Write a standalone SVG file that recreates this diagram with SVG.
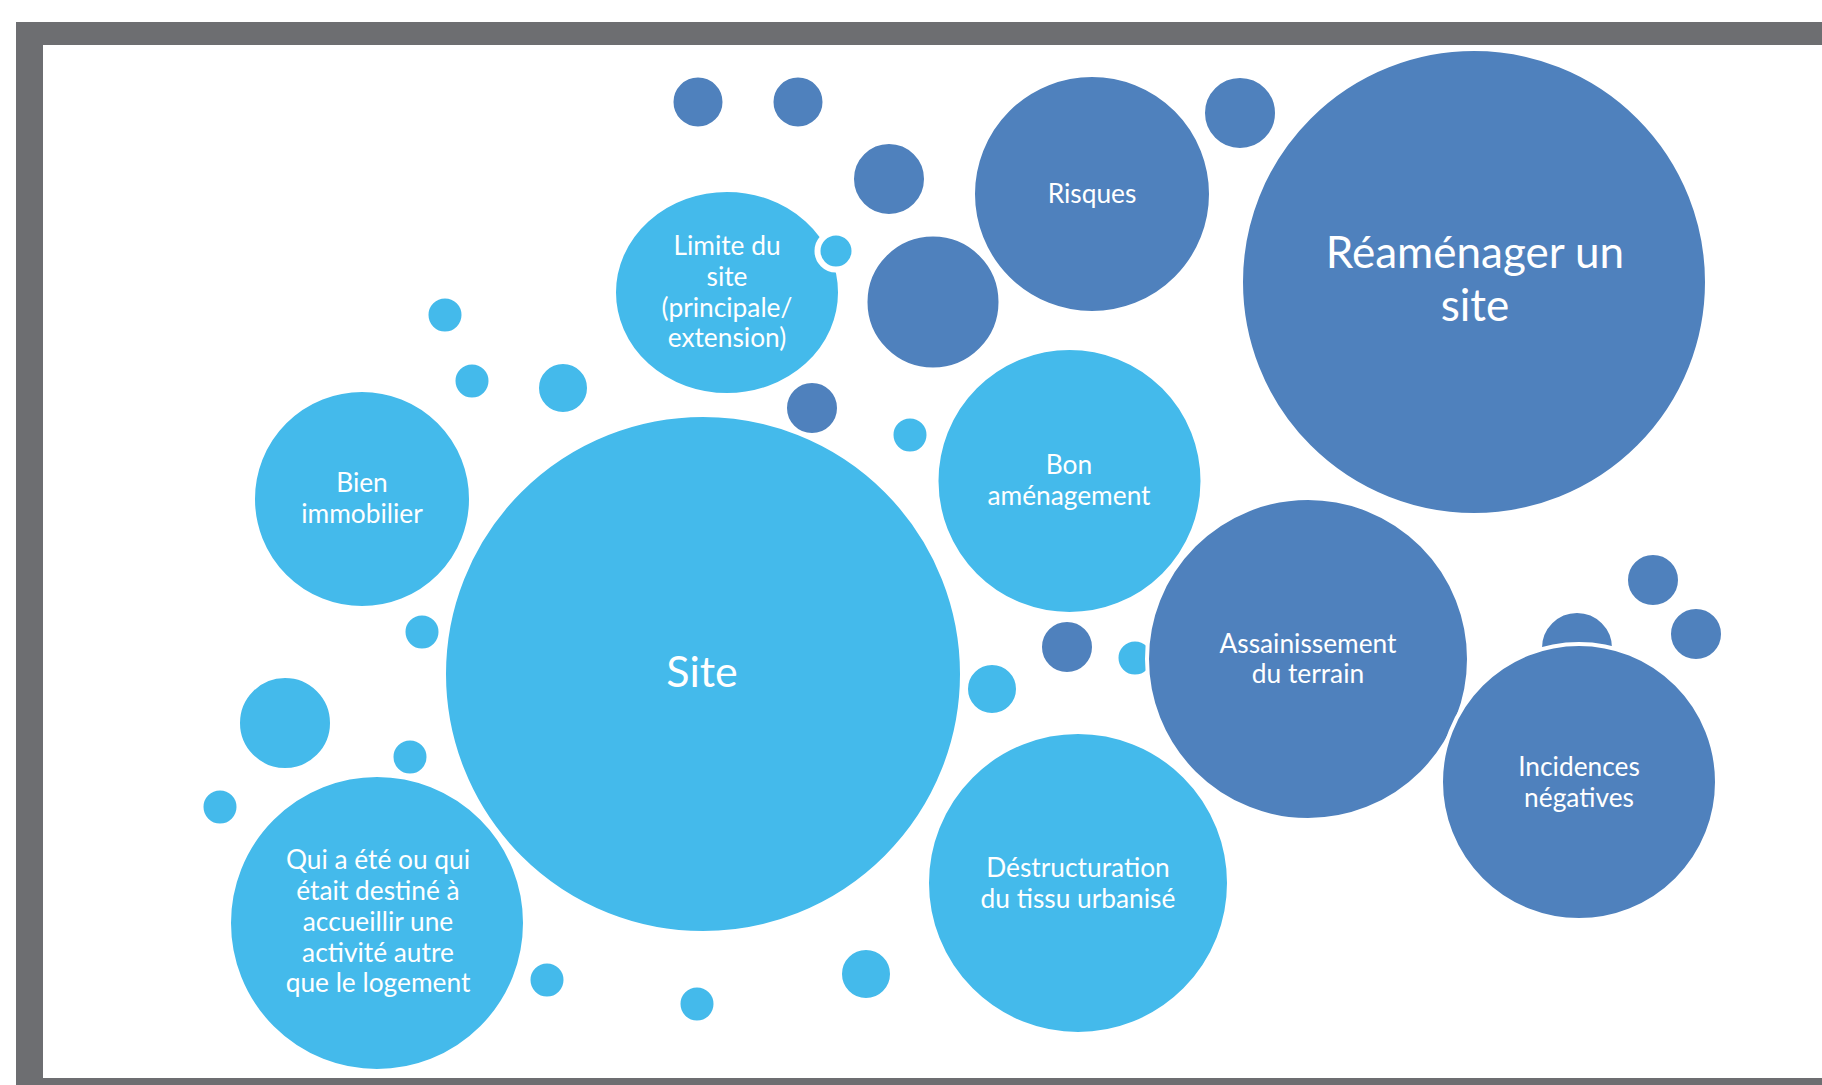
<svg xmlns="http://www.w3.org/2000/svg" width="1822" height="1085" viewBox="0 0 1822 1085">
  <style>
    .lb { fill: #44BAEB; stroke: #FFFFFF; stroke-width: 4; }
    .db { fill: #4F81BD; stroke: #FFFFFF; stroke-width: 4; }
    .t { font-family: Lato, "Open Sans", "Liberation Sans", sans-serif; fill: #FFFFFF; text-anchor: middle; font-size: 26.3px; }
    .tl { font-size: 44px; }
  </style>
  <rect x="0" y="0" width="1822" height="1085" fill="#FFFFFF"/>
  <rect id="frame" x="16" y="22" width="1822" height="1080" fill="#6D6E71"/>
  <rect x="43" y="45" width="1822" height="1033" fill="#FFFFFF"/>

  <g id="decor-back">
    <circle class="lb" cx="1135" cy="658" r="18.5"/>
    <circle class="db" cx="1577" cy="648" r="37"/>
  </g>

  <g id="bubbles">
    <circle class="db" cx="698" cy="102" r="26.5"/>
    <circle class="db" cx="798" cy="102" r="26.5"/>
    <circle class="db" cx="889" cy="179" r="37"/>
    <circle class="db" cx="1240" cy="113" r="37"/>
    <circle class="db" cx="933" cy="302" r="67.5"/>
    <circle class="db" cx="812" cy="408" r="27"/>
    <circle class="lb" cx="910" cy="435" r="18.5"/>
    <circle class="lb" cx="445" cy="315" r="18.5"/>
    <circle class="lb" cx="472" cy="381" r="18.5"/>
    <circle class="lb" cx="563" cy="388" r="26"/>
    <circle class="lb" cx="422" cy="632" r="18.5"/>
    <circle class="lb" cx="285" cy="723" r="47"/>
    <circle class="lb" cx="410" cy="757" r="18.5"/>
    <circle class="lb" cx="220" cy="807" r="18.5"/>
    <circle class="lb" cx="547" cy="980" r="18.5"/>
    <circle class="lb" cx="697" cy="1004" r="18.5"/>
    <circle class="lb" cx="866" cy="974" r="26"/>
    <circle class="lb" cx="992" cy="689" r="26"/>
    <circle class="db" cx="1067" cy="647" r="27"/>
    <circle class="db" cx="1653" cy="580" r="27"/>
    <circle class="db" cx="1696" cy="634" r="27"/>
  </g>

  <g id="node-reamenager">
    <circle class="db" cx="1474" cy="282" r="233"/>
    <text class="t tl" x="1475" y="268">Réaménager un</text>
    <text class="t tl" x="1475" y="321">site</text>
  </g>

  <g id="node-risques">
    <circle class="db" cx="1092" cy="194" r="119"/>
    <text class="t" x="1092" y="203">Risques</text>
  </g>

  <g id="node-limite">
    <ellipse class="lb" cx="727" cy="292.5" rx="113" ry="102.5"/>
    <text class="t" x="727" y="255">Limite du</text>
    <text class="t" x="727" y="286">site</text>
    <text class="t" x="727" y="317">(principale/</text>
    <text class="t" x="727" y="347">extension)</text>
  </g>
  <g id="decor-limite">
    <circle class="lb" cx="836" cy="251" r="18.5" style="stroke-width:6"/>
  </g>

  <g id="node-bon">
    <circle class="lb" cx="1069.5" cy="481" r="133"/>
    <text class="t" x="1069" y="474">Bon</text>
    <text class="t" x="1069" y="505">aménagement</text>
  </g>

  <g id="node-bien">
    <circle class="lb" cx="362" cy="499" r="109"/>
    <text class="t" x="362" y="492">Bien</text>
    <text class="t" x="362" y="523">immobilier</text>
  </g>

  <g id="node-site">
    <circle class="lb" cx="703" cy="674" r="259"/>
    <text class="t" x="702" y="687" style="font-size:43px">Site</text>
  </g>

  <g id="node-qui">
    <circle class="lb" cx="377" cy="923" r="148"/>
    <text class="t" x="378" y="869">Qui a été ou qui</text>
    <text class="t" x="378" y="900">était destiné à</text>
    <text class="t" x="378" y="931">accueillir une</text>
    <text class="t" x="378" y="962">activité autre</text>
    <text class="t" x="378" y="992">que le logement</text>
  </g>

  <g id="node-assainissement">
    <circle class="db" cx="1308" cy="659" r="161"/>
    <text class="t" x="1308" y="653">Assainissement</text>
    <text class="t" x="1308" y="683">du terrain</text>
  </g>

  <g id="node-destructuration">
    <circle class="lb" cx="1078" cy="883" r="151"/>
    <text class="t" x="1078" y="877">Déstructuration</text>
    <text class="t" x="1078" y="908">du tissu urbanisé</text>
  </g>

  <g id="node-incidences">
    <circle class="db" cx="1579" cy="782" r="138"/>
    <text class="t" x="1579" y="776">Incidences</text>
    <text class="t" x="1579" y="807">négatives</text>
  </g>

  <g id="connectors"/>
</svg>
